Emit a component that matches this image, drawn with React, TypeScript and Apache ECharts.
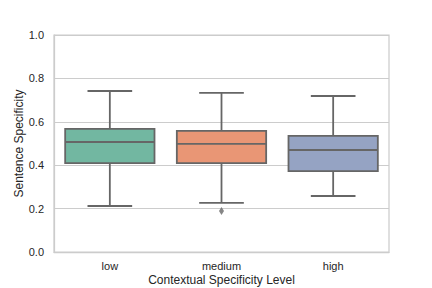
import React, { useEffect, useRef } from 'react';
import * as echarts from 'echarts';

const categories = ['low', 'medium', 'high'];
const whiskerLow = [0.212, 0.226, 0.258];
const q1 = [0.41, 0.41, 0.373];
const median = [0.507, 0.498, 0.47];
const q3 = [0.567, 0.558, 0.535];
const whiskerHigh = [0.742, 0.733, 0.719];
const outlierCategory = ['medium'];
const outlierValue = [0.189];
const yTicks = [0, 0.2, 0.4, 0.6, 0.8, 1.0];

const boxColors = ['#72b7a1', '#e99675', '#95a3c3'];
const lineColor = '#666666';
const fontFamily = '"Liberation Sans", Arial, sans-serif';

export default function App() {
  const ref = useRef<HTMLDivElement>(null);
  useEffect(() => {
    const chart = echarts.init(ref.current as HTMLDivElement, null, { renderer: 'svg' });
    const boxData = categories.map((c, i) => [i, whiskerLow[i], q1[i], median[i], q3[i], whiskerHigh[i]]);
    const outliers = outlierCategory.map((c, i) => [categories.indexOf(c), outlierValue[i]]);
    const lw = 1.8;
    const renderItem = (params: any, api: any) => {
      const idx = api.value(0);
      const lo = api.coord([idx, api.value(1)]);
      const b1 = api.coord([idx, api.value(2)]);
      const md = api.coord([idx, api.value(3)]);
      const b3 = api.coord([idx, api.value(4)]);
      const hi = api.coord([idx, api.value(5)]);
      const band = api.size([1, 0])[0];
      const half = band * 0.4;
      const capHalf = band * 0.2;
      const x = lo[0];
      const st = { stroke: lineColor, lineWidth: lw, fill: null };
      return {
        type: 'group',
        children: [
          { type: 'line', shape: { x1: x, y1: lo[1], x2: x, y2: b1[1] }, style: st },
          { type: 'line', shape: { x1: x, y1: b3[1], x2: x, y2: hi[1] }, style: st },
          { type: 'line', shape: { x1: x - capHalf, y1: lo[1], x2: x + capHalf, y2: lo[1] }, style: st },
          { type: 'line', shape: { x1: x - capHalf, y1: hi[1], x2: x + capHalf, y2: hi[1] }, style: st },
          {
            type: 'rect',
            shape: { x: x - half, y: b3[1], width: 2 * half, height: b1[1] - b3[1] },
            style: { fill: boxColors[idx], stroke: lineColor, lineWidth: lw },
          },
          { type: 'line', shape: { x1: x - half, y1: md[1], x2: x + half, y2: md[1] }, style: st },
        ],
      };
    };
    chart.setOption({
      animation: false,
      backgroundColor: '#ffffff',
      textStyle: { fontFamily },
      grid: {
        left: 54,
        right: 43,
        top: 35,
        bottom: 36,
        show: true,
        borderColor: '#cccccc',
        borderWidth: 1.25,
        outerBoundsMode: 'none',
        containLabel: false,
      },
      xAxis: {
        type: 'category',
        data: categories,
        name: 'Contextual Specificity Level',
        nameLocation: 'middle',
        nameGap: 22,
        nameMoveOverlap: false,
        nameTextStyle: { fontSize: 12, color: '#262626', fontFamily },
        axisLine: { show: true, lineStyle: { color: '#cccccc', width: 1.25 } },
        axisTick: { show: false },
        axisLabel: { fontSize: 11, color: '#262626', margin: 8, fontFamily },
        splitLine: { show: false },
      },
      yAxis: {
        type: 'value',
        min: yTicks[0],
        max: yTicks[yTicks.length - 1],
        interval: 0.2,
        name: 'Sentence Specificity',
        nameLocation: 'middle',
        nameGap: 29,
        nameMoveOverlap: false,
        nameTextStyle: { fontSize: 12, color: '#262626', fontFamily },
        axisLine: { show: true, lineStyle: { color: '#cccccc', width: 1.25 } },
        axisTick: { show: false },
        axisLabel: {
          fontSize: 11,
          color: '#262626',
          margin: 10,
          fontFamily,
          formatter: (v: number) => v.toFixed(1),
        },
        splitLine: { show: true, lineStyle: { color: '#cccccc', width: 1 } },
      },
      series: [
        {
          type: 'custom',
          renderItem,
          data: boxData,
          encode: { x: 0, y: [1, 2, 3, 4, 5] },
          z: 3,
        },
        {
          type: 'scatter',
          data: outliers,
          symbol: 'diamond',
          symbolSize: [5, 8],
          itemStyle: { color: lineColor },
          z: 4,
        },
      ],
    });
    return () => chart.dispose();
  }, []);
  return (
    <div
      ref={ref}
      style={{ position: 'fixed', left: 0, top: 0, width: 432, height: 288, background: '#fff' }}
    />
  );
}
